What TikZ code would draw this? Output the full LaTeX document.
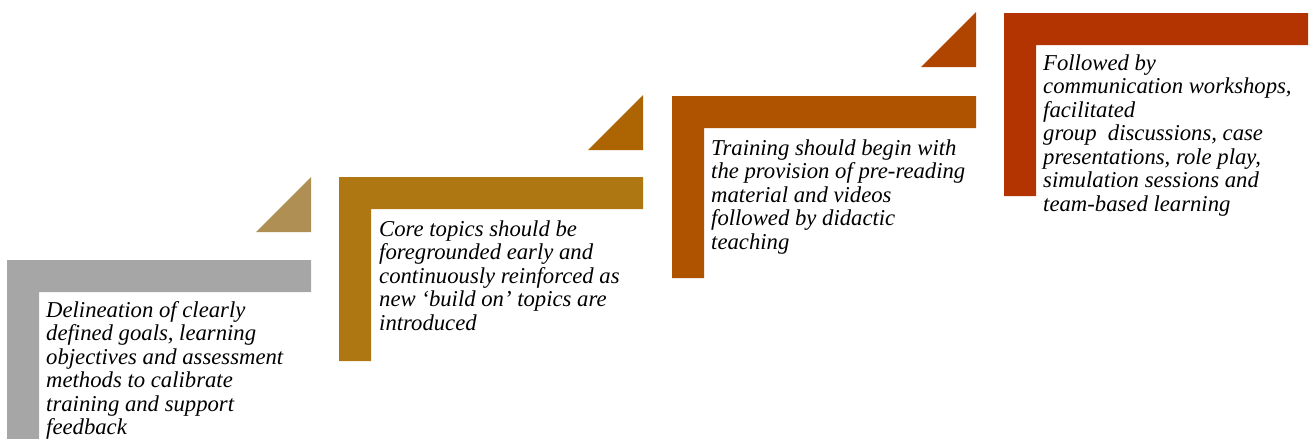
\documentclass[tikz,border=0pt]{standalone}
\usepackage{fontspec}
\setmainfont{Liberation Serif}
\definecolor{stepgray}{HTML}{A6A6A6}
\definecolor{stepgold}{HTML}{AE7712}
\definecolor{steporange}{HTML}{AF5300}
\definecolor{stepred}{HTML}{B33400}
\definecolor{trigold}{HTML}{B08F55}
\definecolor{triorange}{HTML}{AD6503}
\definecolor{trirust}{HTML}{B04500}
\begin{document}
\begin{tikzpicture}[x=1pt,y=-1pt,
  steptext/.style={anchor=north west, align=left, inner sep=0pt, text=black,
    font=\itshape\fontsize{22.7}{23.5}\selectfont},
  % L-shaped step bracket: top-left corner given by the point, 304 wide, 32 thick
  pics/stepL/.style n args={2}{code={
    \fill[#1] (0,0) -- (304,0) -- (304,32) -- (32,32) -- (32,#2) -- (0,#2) -- cycle;}},
  pics/stepTri/.style={code={
    \fill[#1] (0,55) -- (55,55) -- (55,0) -- cycle;}}]
\useasboundingbox (0,0) rectangle (1309,439);

% brackets, lowest step first
\pic at (7,260)   {stepL={stepgray}{183}};
\pic at (339,177) {stepL={stepgold}{184}};
\pic at (672,96)  {stepL={steporange}{182}};
\pic at (1004,13) {stepL={stepred}{183}};

% rising wedges between the steps
\pic at (256,177) {stepTri=trigold};
\pic at (588,95)  {stepTri=triorange};
\pic at (921,12)  {stepTri=trirust};

% step texts (top of node = first baseline - strut height)
\node[steptext] (t1) at (46,300.5) {\strut Delineation of clearly\\defined goals, learning\\objectives and assessment\\methods to calibrate\\training and support\\feedback};
\node[steptext] (t2) at (379,219.5) {\strut Core topics should be\\foregrounded early and\\continuously reinforced as\\new `build on' topics are\\introduced};
\node[steptext] (t3) at (711,138.5) {\strut Training should begin with\\the provision of pre-reading\\material and videos\\followed by didactic\\teaching};
\node[steptext] (t4) at (1043,53.5) {\strut Followed by\\communication workshops,\\facilitated\\group\ \ discussions, case\\presentations, role play,\\simulation sessions and\\team-based learning};
\end{tikzpicture}
\end{document}
